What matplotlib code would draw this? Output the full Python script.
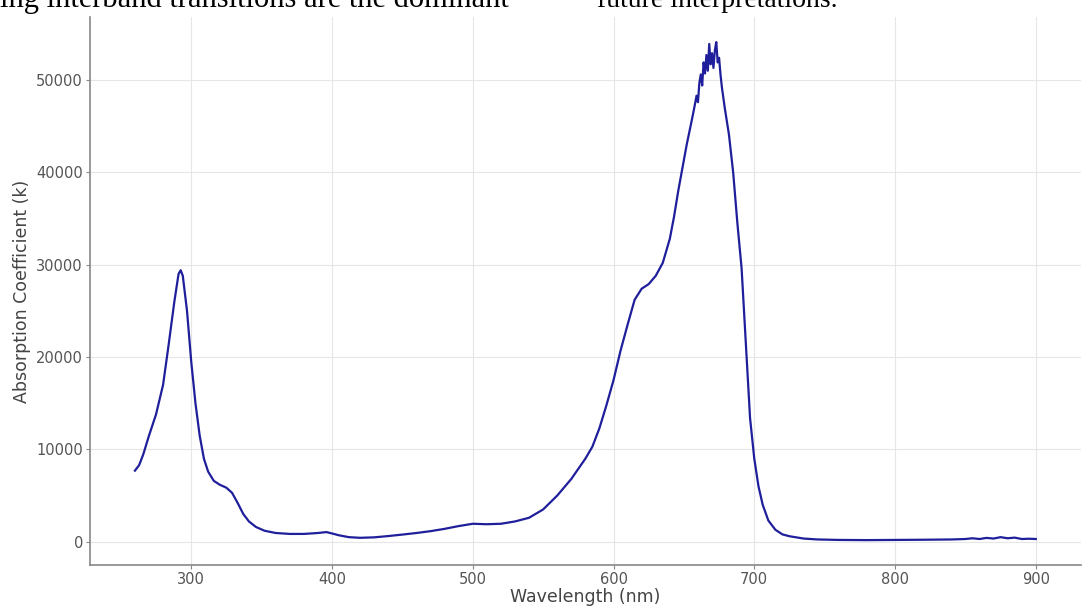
import matplotlib.pyplot as plt

# spectrum (nm, absorption coefficient)
wavelength = [260, 263, 266, 270, 275, 280, 284, 288, 291, 292.5, 294, 297, 300, 303, 306,
              309, 312, 316, 320, 325, 329, 333, 337, 341, 346, 352, 360, 370, 380, 390,
              396, 400, 405, 412, 420, 430, 440, 450, 460, 470, 480, 490, 500, 510, 520,
              530, 540, 550, 560, 570, 580, 585, 590, 595, 600, 605, 610, 615, 620, 625,
              630, 635, 640, 643, 646, 649, 652, 655, 657, 659, 660, 661, 662, 663, 664,
              665, 666, 667, 668, 669, 670, 671, 672, 673, 674, 675, 676, 677, 679, 682,
              685, 688, 691, 694, 697, 700, 703, 706, 710, 715, 720, 725, 735, 745, 760,
              780, 800, 820, 840, 850, 855, 860, 865, 870, 875, 880, 885, 890, 895, 900]
absorption = [7700, 8300, 9500, 11500, 13800, 17000, 21400, 26000, 29000, 29400, 28800, 25000, 19500, 15000, 11500,
              9000, 7600, 6600, 6200, 5850, 5300, 4200, 3000, 2200, 1600, 1200, 950, 850, 850, 950,
              1050, 900, 700, 500, 430, 480, 620, 780, 950, 1150, 1400, 1700, 1950, 1900, 1950,
              2200, 2600, 3500, 5000, 6800, 9000, 10300, 12300, 14800, 17500, 20700, 23500, 26200, 27400, 27900,
              28800, 30200, 32800, 35200, 38000, 40500, 43000, 45200, 46700, 48300, 47600, 49700, 50600, 49400, 51900,
              50700, 52700, 51000, 53900, 51700, 52900, 51300, 53200, 54100, 51900, 52400, 50600, 49200, 47000, 44100,
              40000, 34500, 29600, 21500, 13400, 9000, 6000, 4000, 2300, 1300, 800, 600, 350, 250, 200,
              180, 200, 220, 250, 300, 380, 300, 420, 350, 500, 380, 450, 300, 330, 300]

x_ticks = [300, 400, 500, 600, 700, 800, 900]
y_ticks = [0, 10000, 20000, 30000, 40000, 50000]

fig = plt.figure(figsize=(10.83, 6.08), dpi=100)
ax = fig.add_axes([0.083, 0.0707, 0.915, 0.901])

ax.plot(wavelength, absorption, color='#1f1f9c', linewidth=1.6)

ax.set_xticks(x_ticks)
ax.set_yticks(y_ticks)
ax.grid(True, color='#e6e6e6', linewidth=0.8)
ax.set_axisbelow(True)
for side in ['top', 'right']:
    ax.spines[side].set_visible(False)
for side in ['left', 'bottom']:
    ax.spines[side].set_color('#888888')
    ax.spines[side].set_linewidth(1.2)
ax.tick_params(colors='#888888', labelcolor='#555555', labelsize=10.5, length=3, pad=2)

ax.set_xlabel('Wavelength (nm)', fontsize=12.5, color='#444444', labelpad=1)
ax.set_ylabel('Absorption Coefficient (k)', fontsize=12.5, color='#444444', labelpad=4)

# page text that runs across the top of the screenshot
fig.text(0.0, 0.989, 'ing interband transitions are the dominant', family='Liberation Serif',
         fontsize=22, va='baseline', ha='left', color='black')
fig.text(0.551, 0.989, 'future interpretations.', family='Liberation Serif',
         fontsize=20, va='baseline', ha='left', color='black')

fig.savefig('out.png', dpi=100)
